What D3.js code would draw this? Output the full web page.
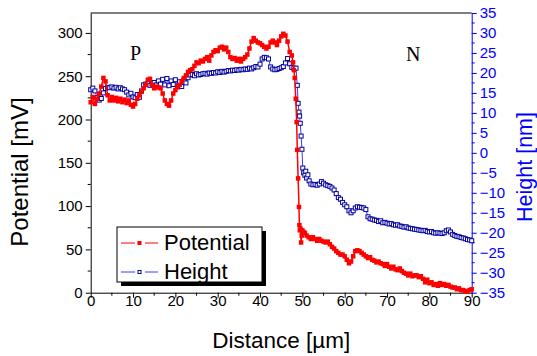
<!DOCTYPE html>
<html>
<head>
<meta charset="utf-8">
<script src="https://cdn.jsdelivr.net/npm/d3@7"></script>
<style>
  body { margin: 0; background: #fff; }
</style>
</head>
<body>
<div id="chart"></div>
<script>
// [distance um, potential mV]
const potential = [
  [0, 220], [0.5, 226], [1, 218], [1.5, 224], [2, 230], [2.5, 238], [3, 248], [3.5, 244], [4, 228], [4.5, 222],
  [5, 226], [5.5, 222], [6, 225], [6.5, 221], [7, 224], [7.5, 220], [8, 223], [8.5, 219], [9, 222], [9.5, 217],
  [10, 215], [10.5, 218], [11, 224], [11.5, 228], [12, 232], [12.5, 236], [13, 240], [13.5, 246], [14, 247], [14.5, 240],
  [15, 236], [15.5, 238], [16, 237], [16.5, 236], [17, 230], [17.5, 222], [18, 218], [18.5, 216], [19, 222], [19.5, 230],
  [20, 234], [20.5, 238], [21, 240], [21.5, 244], [22, 248], [22.5, 251], [23, 255], [23.5, 257], [24, 258], [24.5, 262],
  [25, 266], [25.5, 265], [26, 268], [26.5, 267], [27, 270], [27.5, 272], [28, 268], [28.5, 274], [29, 278], [29.5, 280],
  [30, 279], [30.5, 283], [31, 284], [31.5, 281], [32, 283], [32.5, 278], [33, 272], [33.5, 270], [34, 271], [34.5, 268],
  [35, 270], [35.5, 267], [36, 270], [36.5, 272], [37, 275], [37.5, 282], [38, 290], [38.5, 294], [39, 291], [39.5, 289],
  [40, 288], [40.5, 286], [41, 284], [41.5, 282], [42, 284], [42.5, 289], [43, 291], [43.5, 289], [44, 286], [44.5, 291],
  [45, 296], [45.5, 299], [46, 297], [46.5, 290], [47, 278], [47.5, 274], [47.8, 266], [48, 257], [48.2, 248], [48.45, 224],
  [48.65, 197], [48.8, 165], [49, 132], [49.2, 99], [49.3, 78], [49.4, 72], [49.55, 74], [49.7, 58], [49.85, 66], [50, 72],
  [50.3, 70], [50.6, 69], [51, 66], [51.5, 64], [52, 62], [52.5, 64], [53, 62], [53.5, 60], [54, 62], [54.5, 60],
  [55, 59], [55.5, 58], [56, 59], [56.5, 56], [57, 53], [57.5, 51], [58, 48], [58.5, 46], [59, 44], [59.5, 44],
  [60, 42], [60.5, 38], [61, 34], [61.5, 36], [62, 42], [62.5, 48], [63, 49], [63.5, 48], [64, 46], [64.5, 44],
  [65, 42], [65.5, 40], [66, 41], [66.5, 38], [67, 37], [67.5, 35], [68, 36], [68.5, 34], [69, 33], [69.5, 31],
  [70, 33], [70.5, 30], [71, 28], [71.5, 30], [72, 27], [72.5, 26], [73, 28], [73.5, 25], [74, 23], [74.5, 22],
  [75, 20], [75.5, 22], [76, 19], [76.5, 20], [77, 20], [77.5, 18], [78, 19], [78.5, 16], [79, 12], [79.5, 15],
  [80, 11], [80.5, 12], [81, 9], [81.5, 10], [82, 8], [82.5, 11], [83, 9], [83.5, 10], [84, 8], [84.5, 9],
  [85, 7], [85.5, 6], [86, 6], [86.5, 4], [87, 5], [87.5, 3], [88, 3], [88.5, 2], [89, 1], [89.5, 3], [90, 4]
];
// [distance um, height nm]
const height = [
  [0, 15.8], [0.5, 16.2], [1, 15.5], [1.5, 13.8], [2, 13.2], [2.5, 13.6], [3, 15], [3.5, 16.1], [4, 16.4], [4.5, 16.3],
  [5, 16.5], [5.5, 16.2], [6, 16.4], [6.5, 16], [7, 16.3], [7.5, 16], [8, 15.8], [8.5, 15.2], [9, 14.5], [9.5, 14.9],
  [10, 14], [10.5, 13.8], [11, 14.6], [11.5, 13.9], [12, 15.5], [12.5, 17], [13, 17.2], [13.5, 17.4], [14, 16.9], [14.5, 17.3],
  [15, 17.6], [15.5, 17], [16, 18], [16.5, 17.2], [17, 18.4], [17.5, 17], [18, 18.6], [18.5, 16.8], [19, 18], [19.5, 17.1],
  [20, 18.3], [20.5, 16.5], [21, 17.8], [21.5, 16.6], [22, 18.2], [22.5, 17.5], [23, 18.8], [23.5, 19.5], [24, 19.6], [24.5, 19.3],
  [25, 19.8], [25.5, 19.5], [26, 19.6], [26.5, 19.8], [27, 19.9], [27.5, 19.7], [28, 20], [28.5, 19.9], [29, 20.1], [29.5, 20],
  [30, 20.3], [30.5, 20.1], [31, 20.4], [31.5, 20.2], [32, 20.4], [32.5, 20.6], [33, 20.5], [33.5, 20.7], [34, 20.6], [34.5, 20.8],
  [35, 20.7], [35.5, 20.9], [36, 20.8], [36.5, 21], [37, 20.9], [37.5, 21.2], [38, 21], [38.5, 21.3], [39, 21.6], [39.5, 21.5],
  [40, 22.2], [40.5, 23.5], [41, 23.9], [41.5, 23.8], [42, 23.5], [42.5, 21.5], [43, 21], [43.5, 20.8], [44, 20.9], [44.5, 21.1],
  [45, 21.3], [45.5, 21.6], [46, 22.5], [46.5, 23.6], [47, 22.3], [47.5, 21.4], [48, 21.2], [48.5, 21.2], [48.8, 16.9], [49, 12.4],
  [49.2, 10.2], [49.35, 9.2], [49.5, 7.4], [49.7, 4.2], [49.9, 0.9], [50.1, -3.8], [50.3, -5], [50.6, -5.6], [50.8, -4.6], [51, -6.3],
  [51.3, -5.5], [51.6, -7], [52, -7.8], [52.5, -8], [53, -7.9], [53.5, -8.1], [54, -7.8], [54.5, -7.2], [55, -7.6], [55.5, -8],
  [56, -8.2], [56.5, -8.4], [57, -8.8], [57.5, -9.3], [58, -10.2], [58.5, -11.2], [59, -11.6], [59.5, -12.4], [60, -13], [60.5, -13.5],
  [61, -14.5], [61.5, -15], [62, -14.5], [62.5, -13.8], [63, -13.5], [63.5, -13.6], [64, -13.7], [64.5, -13.8], [65, -14.2], [65.5, -16],
  [66, -16.5], [66.5, -16.6], [67, -16.8], [67.5, -16.9], [68, -17.2], [68.5, -17], [69, -17.5], [69.5, -17.4], [70, -17.6], [70.5, -17.8],
  [71, -17.7], [71.5, -18], [72, -18.1], [72.5, -18], [73, -18.3], [73.5, -18.4], [74, -18.6], [74.5, -18.5], [75, -18.8], [75.5, -18.9],
  [76, -19], [76.5, -19.1], [77, -19.2], [77.5, -19.3], [78, -19.4], [78.5, -19.5], [79, -19.4], [79.5, -19.7], [80, -19.8], [80.5, -19.7],
  [81, -20], [81.5, -20.1], [82, -20], [82.5, -20.1], [83, -20.2], [83.5, -20], [84, -19.5], [84.5, -19.3], [85, -19.8], [85.5, -20.4],
  [86, -20.7], [86.5, -20.9], [87, -21], [87.5, -21.2], [88, -21.3], [88.5, -21.5], [89, -21.7], [89.5, -21.8], [90, -22]
];
const xTicks = [0, 10, 20, 30, 40, 50, 60, 70, 80, 90];
const leftTicks = [0, 50, 100, 150, 200, 250, 300];
const rightTicks = [-35, -30, -25, -20, -15, -10, -5, 0, 5, 10, 15, 20, 25, 30, 35];
const legendItems = ['Potential', 'Height'];

const width = 537;
const height_ = 356;
const margin = { top: 13, bottom: 63.3, left: 90.7, right: 65.3 };
const sans = 'Arial, "Liberation Sans", sans-serif';
const serif = '"Times New Roman", "Liberation Serif", serif';
const red = '#ff0000';
const blue = '#0000ff';
const lineBlue = '#3a3aff';
const navy = '#00009c';

const svg = d3.select('#chart').append('svg')
  .attr('width', width).attr('height', height_)
  .attr('viewBox', [0, 0, width, height_])
  .style('font-family', sans);

const xScale = d3.scaleLinear().domain([0, 90]).range([margin.left, width - margin.right]);
const yLeft = d3.scaleLinear().domain([0, 323]).range([height_ - margin.bottom, margin.top]);
const yRight = d3.scaleLinear().domain([-35, 35]).range([height_ - margin.bottom, margin.top]);
const x0 = xScale.range()[0], x1 = xScale.range()[1];
const yb = yLeft.range()[0], yt = yLeft.range()[1];

// top frame
svg.append('line').attr('x1', x0).attr('x2', x1).attr('y1', yt).attr('y2', yt)
  .attr('stroke', '#000').attr('stroke-width', 1);

// minor ticks
svg.append('g').selectAll('line').data(d3.range(5, 90, 10)).join('line')
  .attr('x1', d => xScale(d)).attr('x2', d => xScale(d))
  .attr('y1', yb).attr('y2', yb + 3).attr('stroke', '#000');
svg.append('g').selectAll('line').data(d3.range(25, 323, 50)).join('line')
  .attr('x1', x0).attr('x2', x0 - 3)
  .attr('y1', d => yLeft(d)).attr('y2', d => yLeft(d)).attr('stroke', '#000');
svg.append('g').selectAll('line').data(d3.range(-32.5, 35, 5)).join('line')
  .attr('x1', x1).attr('x2', x1 + 3)
  .attr('y1', d => yRight(d)).attr('y2', d => yRight(d)).attr('stroke', blue);

const xAxisG = svg.append('g').attr('transform', `translate(0,${yb})`)
  .call(d3.axisBottom(xScale).tickValues(xTicks).tickSizeInner(5).tickSizeOuter(0).tickPadding(-2));
const yAxisG = svg.append('g').attr('transform', `translate(${x0},0)`)
  .call(d3.axisLeft(yLeft).tickValues(leftTicks).tickSizeInner(5).tickSizeOuter(0).tickPadding(3));
const y2AxisG = svg.append('g').attr('transform', `translate(${x1},0)`)
  .call(d3.axisRight(yRight).tickValues(rightTicks).tickSizeInner(5).tickSizeOuter(0).tickPadding(3));

[xAxisG, yAxisG, y2AxisG].forEach(g => {
  g.attr('font-family', sans).attr('font-size', 15);
});
y2AxisG.selectAll('.domain, line').attr('stroke', blue);
y2AxisG.selectAll('text').attr('fill', blue);

// axis titles
svg.append('text').attr('x', (x0 + x1) / 2).attr('y', 348)
  .attr('text-anchor', 'middle').attr('font-size', 22.5).text('Distance [µm]');
svg.append('text').attr('transform', 'translate(27.5,172) rotate(-90)')
  .attr('text-anchor', 'middle').attr('font-size', 24).text('Potential [mV]');
svg.append('text').attr('transform', 'translate(532,167) rotate(-90)')
  .attr('text-anchor', 'middle').attr('font-size', 21.5).attr('fill', blue).text('Height [nm]');

// region labels
svg.append('text').attr('x', 130).attr('y', 60).style('font-family', serif)
  .attr('font-size', 20).text('P');
svg.append('text').attr('x', 406).attr('y', 61).style('font-family', serif)
  .attr('font-size', 20).text('N');

// height series
const hLine = d3.line().x(d => xScale(d[0])).y(d => yRight(d[1]));
svg.append('path').datum(height).attr('d', hLine)
  .attr('fill', 'none').attr('stroke', lineBlue).attr('stroke-width', 1);
svg.append('g').selectAll('rect').data(height).join('rect')
  .attr('x', d => xScale(d[0]) - 2).attr('y', d => yRight(d[1]) - 2)
  .attr('width', 4).attr('height', 4)
  .attr('fill', '#fff').attr('stroke', navy).attr('stroke-width', 1);

// potential series
const pLine = d3.line().x(d => xScale(d[0])).y(d => yLeft(d[1]));
svg.append('path').datum(potential).attr('d', pLine)
  .attr('fill', 'none').attr('stroke', red).attr('stroke-width', 1.5);
svg.append('g').selectAll('rect').data(potential).join('rect')
  .attr('x', d => xScale(d[0]) - 2.25).attr('y', d => yLeft(d[1]) - 2.25)
  .attr('width', 4.5).attr('height', 4.5)
  .attr('fill', red);

// legend
const lg = svg.append('g');
lg.append('rect').attr('x', 121).attr('y', 231).attr('width', 145).attr('height', 55).attr('fill', '#000');
lg.append('rect').attr('x', 117).attr('y', 227).attr('width', 145).attr('height', 55)
  .attr('fill', '#fff').attr('stroke', '#000').attr('stroke-width', 1);
legendItems.forEach((name, i) => {
  const y = 243 + i * 29;
  const c = i === 0 ? red : lineBlue;
  lg.append('line').attr('x1', 121).attr('x2', 135).attr('y1', y).attr('y2', y).attr('stroke', c);
  lg.append('line').attr('x1', 145).attr('x2', 158).attr('y1', y).attr('y2', y).attr('stroke', c);
  if (i === 0) {
    lg.append('rect').attr('x', 137.5).attr('y', y - 2).attr('width', 4).attr('height', 4).attr('fill', red);
  } else {
    lg.append('rect').attr('x', 138).attr('y', y - 1.5).attr('width', 3).attr('height', 3)
      .attr('fill', '#fff').attr('stroke', navy);
  }
  lg.append('text').attr('x', 164).attr('y', y + 7).attr('font-size', 22).text(name);
});
</script>
</body>
</html>
